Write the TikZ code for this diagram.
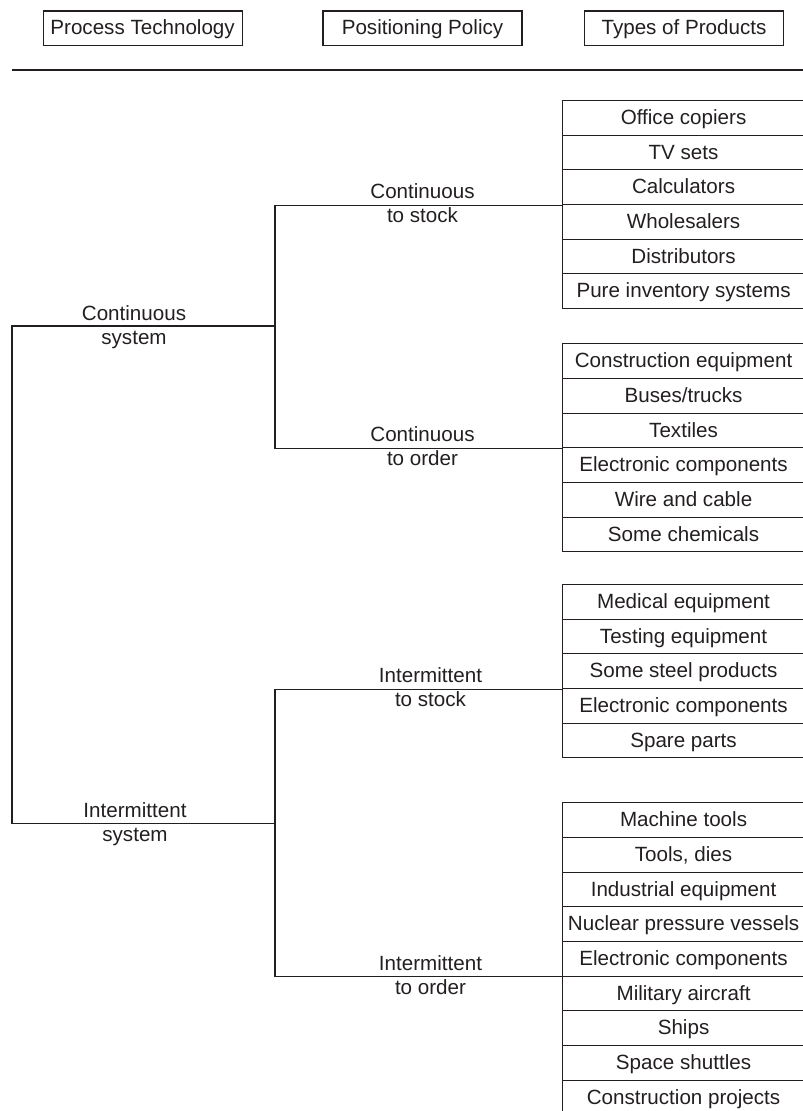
\documentclass[tikz,border=0pt]{standalone}
\usepackage{fontspec}
\setmainfont{Liberation Sans}
\definecolor{ink}{HTML}{231F20}
\begin{document}
\begin{tikzpicture}[x=1pt,y=-1pt,line width=1.1pt,draw=ink,
  every node/.style={font=\fontsize{20.6}{23}\selectfont,text=ink},
  hdr/.style={draw=ink,minimum width=199pt,minimum height=34.7pt,inner sep=0pt,
    text height=15pt,text depth=2pt},
  prod/.style={draw=ink,anchor=north west,minimum width=242pt,minimum height=34.67pt,
    inner sep=0pt,text height=15pt,text depth=2pt},
  lbl/.style={anchor=base,inner sep=0pt}]
\useasboundingbox (0,0) rectangle (803,1111);

% column headings and rule
\node[hdr] (hpt) at (142.6,28.35) {Process Technology};
\node[hdr] (hpp) at (422.5,28.35) {Positioning Policy};
\node[hdr] (htp) at (684,28.35) {Types of Products};
\coordinate (ruleL) at (12,70);
\coordinate (ruleR) at (803,70);
\draw (ruleL) -- (ruleR);

% product stacks
\foreach \t [count=\i] in {Office copiers,TV sets,Calculators,Wholesalers,Distributors,Pure inventory systems}
  \node[prod] (g1r\i) at (562,{100+(\i-1)*34.67}) {\t};
\foreach \t [count=\i] in {Construction equipment,Buses/trucks,Textiles,Electronic components,Wire and cable,Some chemicals}
  \node[prod] (g2r\i) at (562,{343.3+(\i-1)*34.67}) {\t};
\foreach \t [count=\i] in {Medical equipment,Testing equipment,Some steel products,Electronic components,Spare parts}
  \node[prod] (g3r\i) at (562,{584+(\i-1)*34.67}) {\t};
\foreach \t [count=\i] in {Machine tools,{Tools, dies},Industrial equipment,Nuclear pressure vessels,Electronic components,Military aircraft,Ships,Space shuttles,Construction projects}
  \node[prod] (g4r\i) at (562,{802.3+(\i-1)*34.67}) {\t};

% branching lines
\coordinate (rootT) at (12,326);
\coordinate (rootB) at (12,823.3);
\coordinate (contJ) at (275,326);
\coordinate (interJ) at (275,823.3);
\draw (contJ) -- (rootT) -- (rootB) -- (interJ);
\draw (g1r3.south west) -| (contJ) |- (g2r3.south west);
\draw (g3r3.south west) -| (interJ) |- (g4r5.south west);

% process technology labels
\node[lbl] (cs1) at (134,320.6) {Continuous};
\node[lbl] (cs2) at (134,344.4) {system};
\node[lbl] (is1) at (135,817.9) {Intermittent};
\node[lbl] (is2) at (135,841.7) {system};

% positioning policy labels
\node[lbl] (cts1) at (422.5,198.8) {Continuous};
\node[lbl] (cts2) at (422.5,222.6) {to stock};
\node[lbl] (cto1) at (422.5,441.8) {Continuous};
\node[lbl] (cto2) at (422.5,465.6) {to order};
\node[lbl] (its1) at (430.5,682.5) {Intermittent};
\node[lbl] (its2) at (430.5,706.3) {to stock};
\node[lbl] (ito1) at (430.5,970.5) {Intermittent};
\node[lbl] (ito2) at (430.5,994.3) {to order};
\end{tikzpicture}
\end{document}
